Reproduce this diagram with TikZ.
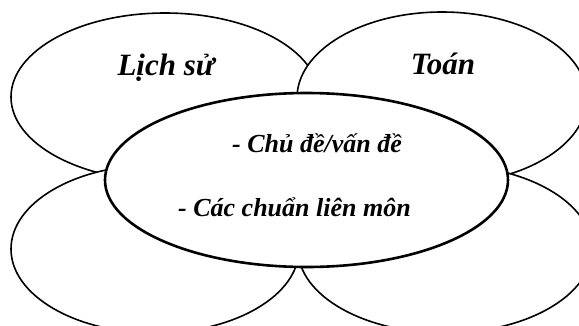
\documentclass[tikz,border=0pt]{standalone}
\usepackage{fontspec}
\setmainfont{Liberation Serif}
\begin{document}
\begin{tikzpicture}[x=1pt,y=-1pt,
  petal/.style={draw=black,fill=white,line width=1.6pt},
  core/.style={draw=black,fill=white,line width=2.6pt},
  title/.style={font=\fontsize{31}{36}\selectfont\bfseries\itshape,inner sep=0pt,anchor=base},
  line/.style={font=\fontsize{26}{30}\selectfont\bfseries\itshape,inner sep=0pt,anchor=base west}]
\useasboundingbox (0,0) rectangle (579,325);
\begin{scope}
\clip (0,0) rectangle (579,325);
\path[petal] (165,97) ellipse [x radius=154, y radius=84];
\path[petal] (442,98) ellipse [x radius=145, y radius=86];
\path[petal] (155,249) ellipse [x radius=144, y radius=84];
\path[petal] (445,249) ellipse [x radius=147, y radius=84];
\path[core] (306.5,180) ellipse [x radius=201.5, y radius=87];
\end{scope}
\node[title] (ls) at (166,75) {Lịch sử};
\node[title] (toan) at (443,74) {Toán};
\node[line] (l1) at (232,152) {- Chủ đề/vấn đề};
\node[line] (l2) at (178,216) {- Các chuẩn liên môn};
\end{tikzpicture}
\end{document}
